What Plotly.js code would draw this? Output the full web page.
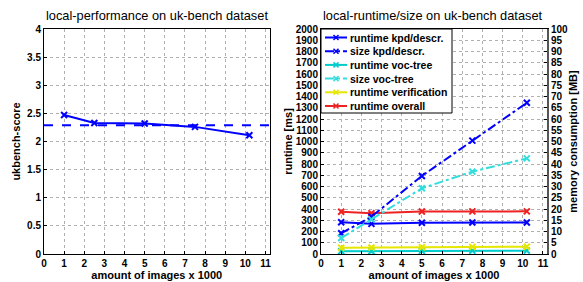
<!DOCTYPE html>
<html><head><meta charset="utf-8">
<script src="https://cdn.plot.ly/plotly-3.0.1.min.js"></script>
<style>html,body{margin:0;padding:0;background:#fff}#c{width:583px;height:282px}</style>
</head><body><div id="c"></div>
<script>
const images = [1, 2.5, 5, 7.5, 10.2];
const score = [2.47, 2.33, 2.32, 2.26, 2.11];
const baselineX = [0, 11.2];
const baselineScore = [2.29, 2.29];
const runtimeKpd = [282, 268, 278, 280, 280];
const sizeKpd = [9.2, 16.6, 34.7, 50.4, 67.2];
const runtimeVoc = [25, 25, 28, 30, 30];
const sizeVoc = [7.1, 15.4, 29.2, 36.6, 42.5];
const runtimeVerif = [56, 58, 60, 63, 65];
const runtimeOverall = [376, 362, 378, 379, 379];
const xTicks = [0,1,2,3,4,5,6,7,8,9,10,11];

const W = 583, H = 282;
const fx = p => p / W, fy = p => 1 - p / H;
const FONT = "Liberation Sans, Arial, sans-serif";

function tr(x, y, name, color, dash, xa, ya, show, marker=true) {
  return {x, y, name, type: 'scatter', mode: marker ? 'lines+markers' : 'lines',
    xaxis: xa, yaxis: ya, showlegend: false, _leg: show,
    line: {color, width: 2, dash},
    marker: {color, line: {color, width: 2}, symbol: 'x-thin-open', size: 6}};
}

const data = [
  tr(images, score, 'score', '#0000ff', 'solid', 'x', 'y', false),
  tr(baselineX, baselineScore, 'baseline', '#0000ff', 'dash', 'x', 'y', false, false),
  tr(images, runtimeKpd, 'runtime kpd/descr.', '#0000ff', 'solid', 'x2', 'y2', true),
  tr(images, sizeKpd, 'size kpd/descr.', '#0000ff', 'dashdot', 'x2', 'y3', true),
  tr(images, runtimeVoc, 'runtime voc-tree', '#00cccc', 'solid', 'x2', 'y2', true),
  tr(images, sizeVoc, 'size voc-tree', '#33dddd', 'dashdot', 'x2', 'y3', true),
  tr(images, runtimeVerif, 'runtime verification', '#e6e600', 'solid', 'x2', 'y2', true),
  tr(images, runtimeOverall, 'runtime overall', '#ee2222', 'solid', 'x2', 'y2', true),
];

// Custom compact legend (MATLAB-style), built from the traces
const shapes = [];
const annotations = [];
const LX0 = 321, LY0 = 29, LX1 = 452, LY1 = 113;
shapes.push({type: 'rect', xref: 'paper', yref: 'paper', x0: fx(LX0), x1: fx(LX1), y0: fy(LY1), y1: fy(LY0),
  line: {color: '#000', width: 1}, fillcolor: '#fff', layer: 'above'});
let row = 0;
data.forEach(t => {
  if (!t._leg) return;
  const cy = 37.5 + row * 13.7;
  const c = t.line.color;
  shapes.push({type: 'line', xref: 'paper', yref: 'paper', x0: fx(325), x1: fx(347), y0: fy(cy), y1: fy(cy),
    line: {color: c, width: 2, dash: t.line.dash === 'dashdot' ? 'dashdot' : 'solid'}, layer: 'above'});
  const m = 2.5;
  shapes.push({type: 'path', xref: 'paper', yref: 'paper',
    path: `M${fx(336-m)},${fy(cy-m)}L${fx(336+m)},${fy(cy+m)}M${fx(336-m)},${fy(cy+m)}L${fx(336+m)},${fy(cy-m)}`,
    line: {color: c, width: 1.5}, layer: 'above'});
  annotations.push({text: t.name, xref: 'paper', yref: 'paper', x: fx(348), y: fy(cy), xanchor: 'left', yanchor: 'middle',
    showarrow: false, font: {family: FONT, size: 10.5, color: '#000', weight: 'bold'}});
  row++;
});

const tickFont = {family: FONT, size: 10, color: '#000', weight: 'bold'};
const titleFont = {family: FONT, size: 11, color: '#000', weight: 'bold'};
const gridCommon = {showgrid: true, gridcolor: '#b0b0b0', griddash: 'dot', gridwidth: 1,
  showline: true, linecolor: '#000', linewidth: 1, mirror: true, ticks: 'inside', ticklen: 3,
  tickcolor: '#000', zeroline: false, tickfont: tickFont, fixedrange: true};

annotations.push(
  {text: 'local-performance on uk-bench dataset', x: fx(157), y: fy(15), xref: 'paper', yref: 'paper',
    showarrow: false, font: {family: FONT, size: 12.8, color: '#000'}, xanchor: 'center', yanchor: 'middle'},
  {text: 'local-runtime/size on uk-bench dataset', x: fx(433), y: fy(15), xref: 'paper', yref: 'paper',
    showarrow: false, font: {family: FONT, size: 12.8, color: '#000'}, xanchor: 'center', yanchor: 'middle'}
);

const yDom = [fy(254), fy(29)];
const layout = {
  width: W, height: H, margin: {l: 0, r: 0, t: 0, b: 0},
  paper_bgcolor: '#fff', plot_bgcolor: '#fff',
  font: {family: FONT},
  xaxis: Object.assign({}, gridCommon, {domain: [fx(44), fx(269.5)], range: [0, 11.2],
    tickvals: xTicks, anchor: 'y',
    title: {text: 'amount of images x 1000', font: titleFont, standoff: 2}}),
  yaxis: Object.assign({}, gridCommon, {domain: yDom, range: [0, 4], dtick: 0.5, anchor: 'x',
    title: {text: 'ukbench-score', font: titleFont, standoff: 4}}),
  xaxis2: Object.assign({}, gridCommon, {domain: [fx(321), fx(547)], range: [0, 11.2],
    tickvals: xTicks, anchor: 'y2',
    title: {text: 'amount of images x 1000', font: titleFont, standoff: 2}}),
  yaxis2: Object.assign({}, gridCommon, {domain: yDom, range: [0, 2000], dtick: 100, anchor: 'x2',
    mirror: false,
    title: {text: 'runtime [ms]', font: titleFont, standoff: 0}}),
  yaxis3: Object.assign({}, gridCommon, {overlaying: 'y2', side: 'right', anchor: 'x2',
    range: [0, 100], dtick: 5, showgrid: false, mirror: false, linecolor: '#555', linewidth: 2,
    title: {text: 'memory consumption [MB]', font: titleFont, standoff: 2}}),
  shapes, annotations,
  showlegend: false
};
data.forEach(t => delete t._leg);
Plotly.newPlot('c', data, layout, {displayModeBar: false, staticPlot: true});
</script></body></html>
